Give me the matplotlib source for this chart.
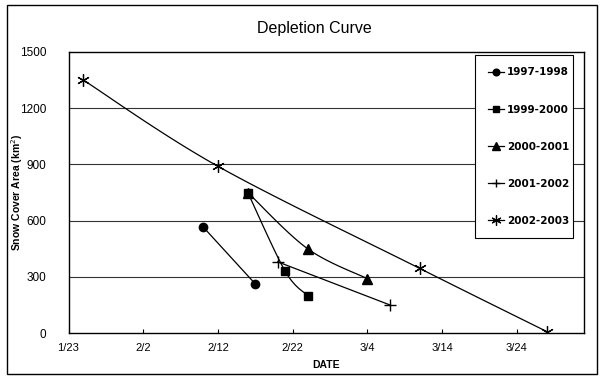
import numpy as np
import matplotlib
matplotlib.use("Agg")
import matplotlib.pyplot as plt
from matplotlib import font_manager
from matplotlib.patches import Rectangle

# ---- data (x = days since 1/23) ----
tick_days = [0, 10, 20, 30, 40, 50, 60]
tick_labels = ["1/23", "2/2", "2/12", "2/22", "3/4", "3/14", "3/24"]
y_ticks = [0, 300, 600, 900, 1200, 1500]

s9798_x = [18, 25]
s9798_y = [567, 262]
s9900_x = [24, 29, 32]
s9900_y = [750, 330, 200]
s0001_x = [24, 32, 40]
s0001_y = [750, 450, 290]
s0102_x = [28, 43]
s0102_y = [380, 150]
s0203_x = [2, 20, 47, 64]
s0203_y = [1350, 890, 345, 8]

names = ["1997-1998", "1999-2000", "2000-2001", "2001-2002", "2002-2003"]

avail = {f.name for f in font_manager.fontManager.ttflist}
narrow = "Liberation Sans Narrow" if "Liberation Sans Narrow" in avail else "Liberation Sans"


def smooth(xs, ys, n=40):
    """Excel-like smoothed line: cubic Bezier with Catmull-Rom control points."""
    P = np.column_stack([xs, ys]).astype(float)
    if len(P) < 3:
        return P[:, 0], P[:, 1]
    ext = np.vstack([P[0], P, P[-1]])
    out = []
    t = np.linspace(0, 1, n)[:, None]
    for i in range(1, len(ext) - 2):
        p0, p3 = ext[i], ext[i + 1]
        c1 = p0 + (ext[i + 1] - ext[i - 1]) / 6.0
        c2 = p3 - (ext[i + 2] - ext[i]) / 6.0
        seg = ((1 - t) ** 3) * p0 + 3 * ((1 - t) ** 2) * t * c1 + 3 * (1 - t) * t ** 2 * c2 + t ** 3 * p3
        out.append(seg if i == 1 else seg[1:])
    out = np.vstack(out)
    return out[:, 0], out[:, 1]


fig = plt.figure(figsize=(6.0, 3.76), dpi=100)
ax = fig.add_axes([68.5 / 600, 1 - 333 / 376, (584 - 68.5) / 600, (333 - 52) / 376])

series = [
    (s9798_x, s9798_y, dict(marker="o", ms=6), False),
    (s9900_x, s9900_y, dict(marker="s", ms=5.5), True),
    (s0001_x, s0001_y, dict(marker="^", ms=6.5), True),
    (s0102_x, s0102_y, dict(marker="+", ms=8, mew=1.0), False),
    (s0203_x, s0203_y, dict(marker=(6, 2, 0), ms=9, mew=0.9), True),
]
order = [2, 0, 1, 3, 4]
handles = [None] * 5
for idx in order:
    xs, ys, mk, sm = series[idx]
    lx, ly = smooth(xs, ys) if sm else (xs, ys)
    ax.plot(lx, ly, color="black", lw=0.9, zorder=3)
    ax.plot(xs, ys, linestyle="none", color="black", zorder=4, **mk)
    h, = ax.plot([], [], color="black", lw=0.9, **mk)
    handles[idx] = h

ax.set_xlim(0, 69)
ax.set_ylim(0, 1500)
ax.set_xticks(tick_days)
ax.set_xticklabels(tick_labels, fontfamily=narrow, fontsize=8)
ax.set_yticks(y_ticks)
ax.set_yticklabels([str(v) for v in y_ticks], fontfamily=narrow, fontsize=8.5)
ax.tick_params(axis="x", direction="in", length=3, width=0.8, pad=7)
ax.tick_params(axis="y", length=0, pad=16)
for v in y_ticks[1:-1]:
    ax.axhline(v, color="#333333", lw=0.8, zorder=1)
for sp in ax.spines.values():
    sp.set_linewidth(1.0)
    sp.set_color("black")

ax.set_xlabel("DATE", fontfamily="Liberation Sans", fontweight="bold", fontsize=7.5, labelpad=5)
fig.text(17 / 600, 1 - 192 / 376, "Snow Cover Area (km$^2$)", rotation=90,
         ha="center", va="center", fontfamily="Liberation Sans", fontweight="bold", fontsize=7.5)
fig.text(314 / 600, 1 - 29 / 376, "Depletion Curve", ha="center", va="center",
         fontfamily="Liberation Sans", fontsize=11.5)

leg = ax.legend(handles, names, loc="upper left",
                bbox_to_anchor=(475 / 600, 1 - 233 / 376, (573 - 475) / 600, (233 - 55) / 376),
                bbox_transform=fig.transFigure, mode="expand",
                prop=dict(family="DejaVu Sans", weight="bold", size=7.5),
                frameon=True, fancybox=False, framealpha=1, edgecolor="black",
                handlelength=1.6, handletextpad=0.3, labelspacing=2.6, markerscale=0.8,
                borderpad=1.2, borderaxespad=0)
leg.get_frame().set_linewidth(0.8)

fig.add_artist(Rectangle((7 / 600, 1 - 374 / 376), 590 / 600, 369 / 376,
                         transform=fig.transFigure, fill=False, edgecolor="black", lw=1.0))

fig.savefig("out.png", dpi=100)
